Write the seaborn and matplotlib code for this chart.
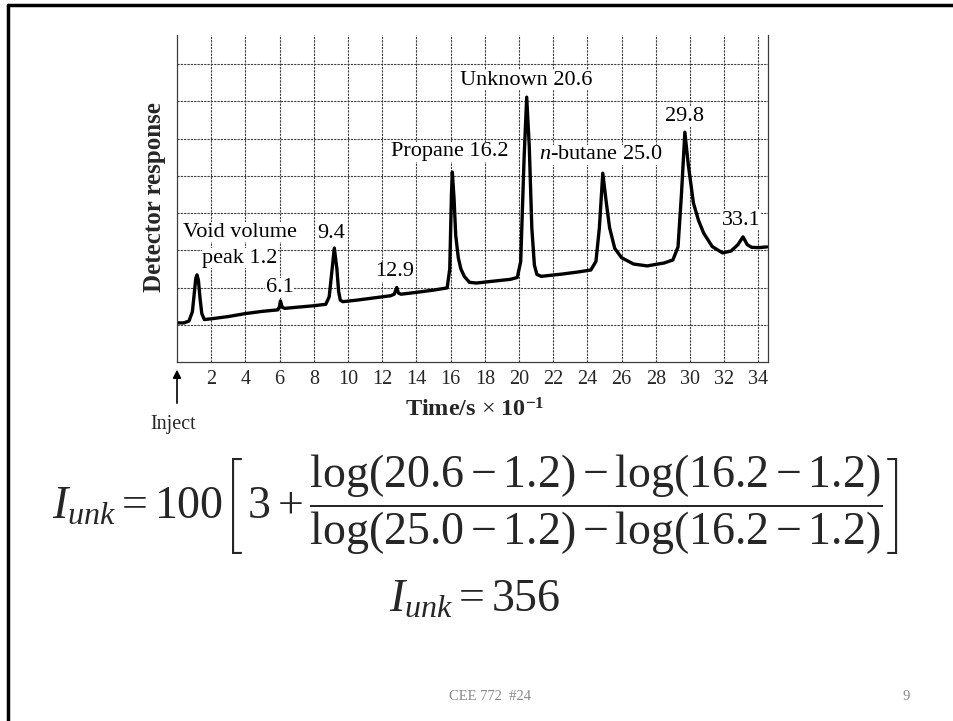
import numpy as np
import pandas as pd
import matplotlib
matplotlib.use("Agg")
import matplotlib.pyplot as plt
from matplotlib.lines import Line2D
import seaborn as sns

# ---- data (time in s x 10^-1, response in grid units) ----
time = [0.0, 0.4, 0.7, 0.9, 1.0, 1.1, 1.17, 1.25, 1.35, 1.45, 1.6, 2.0, 3.0, 4.0, 5.0,
        5.9, 6.0, 6.05, 6.15, 6.3, 7.0, 8.0, 8.7, 8.9, 9.05, 9.2, 9.35, 9.45, 9.55, 9.7,
        10.5, 11.5, 12.5, 12.7, 12.85, 12.95, 13.1, 14.0, 15.0, 15.8, 15.95, 16.05, 16.1,
        16.2, 16.3, 16.45, 16.6, 16.8, 17.1, 17.5, 18.5, 19.5, 19.9, 20.1, 20.3, 20.45,
        20.6, 20.75, 20.9, 21.05, 21.3, 22.5, 23.5, 24.2, 24.5, 24.7, 24.9, 25.1, 25.3,
        25.6, 26.0, 26.7, 27.5, 28.5, 29.0, 29.3, 29.5, 29.7, 29.9, 30.2, 30.5, 30.8,
        31.3, 31.9, 32.4, 32.8, 33.1, 33.35, 33.6, 34.0, 34.5]
response = [1.05, 1.05, 1.10, 1.35, 1.80, 2.25, 2.34, 2.20, 1.70, 1.30, 1.14, 1.16, 1.22,
            1.30, 1.36, 1.40, 1.50, 1.64, 1.47, 1.44, 1.47, 1.51, 1.55, 1.75, 2.40, 3.06,
            2.50, 1.90, 1.66, 1.62, 1.66, 1.72, 1.78, 1.82, 2.00, 1.85, 1.82, 1.87, 1.93,
            1.99, 2.50, 4.50, 5.10, 4.40, 3.40, 2.80, 2.50, 2.30, 2.14, 2.12, 2.17, 2.22,
            2.27, 2.70, 5.50, 7.11, 5.80, 3.60, 2.60, 2.35, 2.30, 2.36, 2.42, 2.47, 2.70,
            3.60, 5.07, 4.30, 3.60, 3.05, 2.80, 2.63, 2.58, 2.66, 2.74, 3.09, 4.50, 6.17,
            5.30, 4.27, 3.80, 3.46, 3.10, 2.93, 2.98, 3.15, 3.36, 3.15, 3.08, 3.07, 3.09]

tick_values = list(range(2, 35, 2))
tick_labels = [str(v) for v in tick_values]

peak_labels = ["Void volume", "peak 1.2", "6.1", "9.4", "12.9", "Propane 16.2",
               "Unknown 20.6", r"$\mathit{n}$-butane 25.0", "29.8", "33.1"]
label_x = [3.68, 3.68, 6.0, 9.0, 12.75, 15.96, 20.4, 24.8, 29.7, 33.0]
label_y = [3.49, 2.79, 1.99, 3.46, 2.42, 5.64, 7.57, 5.56, 6.60, 3.81]

df = pd.DataFrame({"time": time, "response": response})

# ---- style ----
sns.set_theme(style="white")
plt.rcParams["font.family"] = ["Liberation Serif", "DejaVu Serif"]
plt.rcParams["mathtext.fontset"] = "custom"
plt.rcParams["mathtext.rm"] = "Liberation Serif"
plt.rcParams["mathtext.it"] = "Liberation Serif:italic"
plt.rcParams["mathtext.bf"] = "Liberation Serif:bold"

W, H = 954, 721
fig = plt.figure(figsize=(W / 100, H / 100), dpi=100)
fig.patch.set_facecolor("white")

# axes placed in pixel geometry
x0, x1 = 177.0, 767.8
y_top, y_bot = 35.0, 362.0
ax = fig.add_axes([x0 / W, (H - y_bot) / H, (x1 - x0) / W, (y_bot - y_top) / H])
ax.set_facecolor("white")

sns.lineplot(data=df, x="time", y="response", color="black", lw=2.4, ax=ax,
             sort=False, legend=False)

ax.set_xlim(0, 34.55)
ax.set_ylim(0, 8.78)
ax.set_xticks(tick_values)
ax.set_xticklabels(tick_labels, fontsize=14.5)
ax.set_yticks(range(1, 9))
ax.set_yticklabels([])
ax.tick_params(axis="both", length=0, pad=6)
ax.set_xlabel("")
ax.set_ylabel("")

grid_kw = dict(color="#3c3c3c", lw=0.8, linestyle=(0, (2, 1)))
ax.grid(True, which="major", axis="both", **grid_kw)
ax.set_axisbelow(True)
ax.spines["top"].set_visible(False)
for side in ["left", "right", "bottom"]:
    ax.spines[side].set_visible(True)
    ax.spines[side].set_color("#3c3c3c")
    ax.spines[side].set_linewidth(0.9)
    ax.spines[side].set_linestyle((0, (2, 1)))

for txt, lx, ly in zip(peak_labels, label_x, label_y):
    ax.text(lx, ly, txt, ha="center", va="center", fontsize=16, color="black",
            bbox=dict(facecolor="white", edgecolor="none", pad=0.5))

# inject arrow
ax.annotate("", xy=(0, -0.13), xytext=(0, -1.18), xycoords="data",
            arrowprops=dict(arrowstyle="-|>", color="black", lw=1.2,
                            mutation_scale=12), annotation_clip=False)
ax.text(-0.23, -1.69, "Inject", ha="center", va="center", fontsize=14.5,
        clip_on=False)

fig.text(475 / W, 1 - 410 / H, r"Time/s $\times$ 10$^{\mathbf{-1}}$", ha="center",
         va="center", fontsize=17.5, fontweight="bold")
fig.text(155 / W, 1 - 197 / H, "Detector response", rotation=90, ha="center",
         va="center", fontsize=18, fontweight="bold")

# equation
eq = (r"$I_{unk} = 100\left[\,3+\dfrac{\log(20.6-1.2)-\log(16.2-1.2)}"
      r"{\log(25.0-1.2)-\log(16.2-1.2)}\right]$")
fig.text(475 / W, 1 - 505 / H, eq, ha="center", va="center", fontsize=33)
fig.text(475 / W, 1 - 600 / H, r"$I_{unk} = 356$", ha="center", va="center",
         fontsize=33)

fig.text(490 / W, 1 - 697 / H, "CEE 772  #24", ha="center", va="center",
         fontsize=10.5, color="#888888")
fig.text(906 / W, 1 - 697 / H, "9", ha="center", va="center", fontsize=10.5,
         color="#888888")

# slide border (top and left)
fig.add_artist(Line2D([8 / W, 1.0], [1 - 5 / H, 1 - 5 / H], color="black", lw=2.5,
                      transform=fig.transFigure))
fig.add_artist(Line2D([8 / W, 8 / W], [0.0, 1 - 5 / H], color="black", lw=2.5,
                      transform=fig.transFigure))

fig.savefig("out.png", dpi=100, facecolor="white")
